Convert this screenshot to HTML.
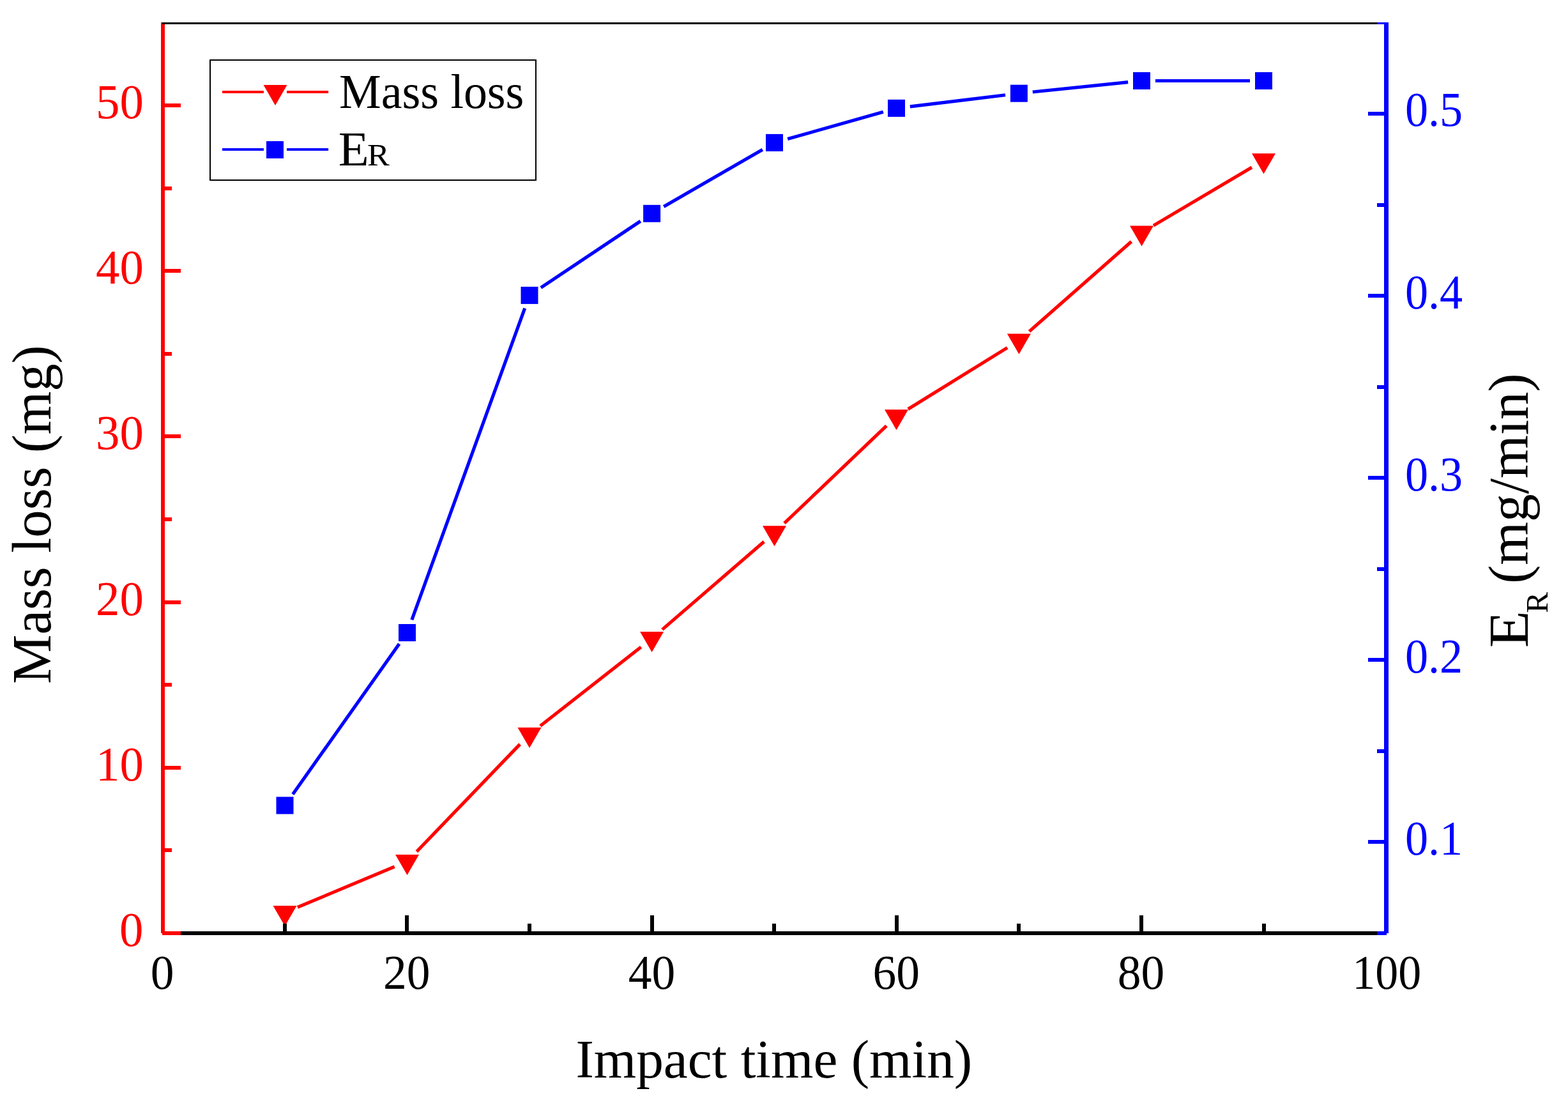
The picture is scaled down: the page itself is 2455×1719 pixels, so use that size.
<!DOCTYPE html>
<html><head><meta charset="utf-8"><title>Mass loss and E_R vs impact time</title>
<style>html,body{margin:0;padding:0;background:#fff;overflow:hidden;}svg{display:block;}</style></head>
<body>
<svg width="2455" height="1719" viewBox="0 0 2455 1719">
<path d="M465.84 1420.39L617.66 1356.97M652.41 1333.19L814.09 1165.17M845.93 1136.43L1003.67 1012.93M1036.87 985.63L1196.23 848.03M1228.06 819.15L1387.94 666.72M1421.78 640.56L1577.12 544.40M1611.54 518.88L1771.36 378.28M1806.00 353.13L1960.00 261.94" stroke="#ff0000" stroke-width="5.2" fill="none"/>
<path d="M458.42 1243.45L625.08 1008.05M644.83 970.29L821.67 482.61M846.87 450.45L1002.73 346.25M1039.22 323.54L1193.88 234.16M1233.19 217.55L1382.81 175.25M1424.84 166.82L1574.06 148.78M1616.79 144.01L1766.11 128.69M1809.00 126.50L1957.00 126.50" stroke="#0000ff" stroke-width="5.2" fill="none"/>
<path d="M427.50 1418.00L464.50 1418.00L446.00 1450.04Z" fill="#ff0000"/>
<path d="M619.00 1338.00L656.00 1338.00L637.50 1370.04Z" fill="#ff0000"/>
<path d="M810.50 1139.00L847.50 1139.00L829.00 1171.04Z" fill="#ff0000"/>
<path d="M1002.10 989.00L1039.10 989.00L1020.60 1021.04Z" fill="#ff0000"/>
<path d="M1194.00 823.30L1231.00 823.30L1212.50 855.34Z" fill="#ff0000"/>
<path d="M1385.00 641.20L1422.00 641.20L1403.50 673.24Z" fill="#ff0000"/>
<path d="M1576.90 522.40L1613.90 522.40L1595.40 554.44Z" fill="#ff0000"/>
<path d="M1769.00 353.40L1806.00 353.40L1787.50 385.44Z" fill="#ff0000"/>
<path d="M1960.00 240.30L1997.00 240.30L1978.50 272.34Z" fill="#ff0000"/>
<rect x="432.50" y="1247.50" width="27.0" height="27.0" fill="#0000ff"/>
<rect x="624.00" y="977.00" width="27.0" height="27.0" fill="#0000ff"/>
<rect x="815.50" y="448.90" width="27.0" height="27.0" fill="#0000ff"/>
<rect x="1007.10" y="320.80" width="27.0" height="27.0" fill="#0000ff"/>
<rect x="1199.00" y="209.90" width="27.0" height="27.0" fill="#0000ff"/>
<rect x="1390.00" y="155.90" width="27.0" height="27.0" fill="#0000ff"/>
<rect x="1581.90" y="132.70" width="27.0" height="27.0" fill="#0000ff"/>
<rect x="1774.00" y="113.00" width="27.0" height="27.0" fill="#0000ff"/>
<rect x="1965.00" y="113.00" width="27.0" height="27.0" fill="#0000ff"/>
<g shape-rendering="crispEdges"><rect x="252.00" y="35.00" width="6.00" height="1426.00" fill="#ff0000"/><rect x="258.00" y="1198.80" width="25.00" height="6.00" fill="#ff0000"/><rect x="258.00" y="939.60" width="25.00" height="6.00" fill="#ff0000"/><rect x="258.00" y="680.40" width="25.00" height="6.00" fill="#ff0000"/><rect x="258.00" y="421.20" width="25.00" height="6.00" fill="#ff0000"/><rect x="258.00" y="162.00" width="25.00" height="6.00" fill="#ff0000"/><rect x="258.00" y="1328.40" width="11.00" height="6.00" fill="#ff0000"/><rect x="258.00" y="1069.20" width="11.00" height="6.00" fill="#ff0000"/><rect x="258.00" y="810.00" width="11.00" height="6.00" fill="#ff0000"/><rect x="258.00" y="550.80" width="11.00" height="6.00" fill="#ff0000"/><rect x="258.00" y="291.60" width="11.00" height="6.00" fill="#ff0000"/><rect x="254.00" y="1458.00" width="1902.00" height="6.00" fill="#000000"/><rect x="254.00" y="35.00" width="1902.00" height="3.00" fill="#000000"/><rect x="634.46" y="1433.00" width="6.00" height="25.00" fill="#000000"/><rect x="1017.62" y="1433.00" width="6.00" height="25.00" fill="#000000"/><rect x="1400.78" y="1433.00" width="6.00" height="25.00" fill="#000000"/><rect x="1783.94" y="1433.00" width="6.00" height="25.00" fill="#000000"/><rect x="442.88" y="1446.00" width="6.00" height="12.00" fill="#000000"/><rect x="826.04" y="1446.00" width="6.00" height="12.00" fill="#000000"/><rect x="1209.20" y="1446.00" width="6.00" height="12.00" fill="#000000"/><rect x="1592.36" y="1446.00" width="6.00" height="12.00" fill="#000000"/><rect x="1975.52" y="1446.00" width="6.00" height="12.00" fill="#000000"/><rect x="254.00" y="1458.00" width="29.00" height="6.00" fill="#ff0000"/><rect x="2167.00" y="35.00" width="7.00" height="1426.00" fill="#0000ff"/><rect x="2142.00" y="1315.44" width="25.00" height="6.00" fill="#0000ff"/><rect x="2142.00" y="1030.32" width="25.00" height="6.00" fill="#0000ff"/><rect x="2142.00" y="745.20" width="25.00" height="6.00" fill="#0000ff"/><rect x="2142.00" y="460.08" width="25.00" height="6.00" fill="#0000ff"/><rect x="2142.00" y="174.96" width="25.00" height="6.00" fill="#0000ff"/><rect x="2156.00" y="1172.88" width="11.00" height="6.00" fill="#0000ff"/><rect x="2156.00" y="887.76" width="11.00" height="6.00" fill="#0000ff"/><rect x="2156.00" y="602.64" width="11.00" height="6.00" fill="#0000ff"/><rect x="2156.00" y="317.52" width="11.00" height="6.00" fill="#0000ff"/><rect x="2156.00" y="1458.00" width="15.00" height="6.00" fill="#0000ff"/><rect x="2156.00" y="35.00" width="18.00" height="3.00" fill="#0000ff"/></g>
<g font-family="'Liberation Serif','Times New Roman',serif"><text transform="translate(187.01 1480.90) scale(0.9720 1)" font-size="77" fill="#ff0000" xml:space="preserve">0</text><text transform="translate(150.07 1221.70) scale(0.9720 1)" font-size="77" fill="#ff0000" xml:space="preserve">10</text><text transform="translate(150.07 962.50) scale(0.9720 1)" font-size="77" fill="#ff0000" xml:space="preserve">20</text><text transform="translate(150.07 703.30) scale(0.9720 1)" font-size="77" fill="#ff0000" xml:space="preserve">30</text><text transform="translate(150.07 444.10) scale(0.9720 1)" font-size="77" fill="#ff0000" xml:space="preserve">40</text><text transform="translate(150.07 184.90) scale(0.9720 1)" font-size="77" fill="#ff0000" xml:space="preserve">50</text><text transform="translate(2199.89 1337.94) scale(0.9380 1)" font-size="77" fill="#0000ff" xml:space="preserve">0.1</text><text transform="translate(2199.89 1052.82) scale(0.9380 1)" font-size="77" fill="#0000ff" xml:space="preserve">0.2</text><text transform="translate(2199.89 767.70) scale(0.9380 1)" font-size="77" fill="#0000ff" xml:space="preserve">0.3</text><text transform="translate(2199.89 482.58) scale(0.9380 1)" font-size="77" fill="#0000ff" xml:space="preserve">0.4</text><text transform="translate(2199.89 197.46) scale(0.9380 1)" font-size="77" fill="#0000ff" xml:space="preserve">0.5</text><text transform="translate(235.73 1548.00) scale(0.9550 1)" font-size="77" fill="#000000" xml:space="preserve">0</text><text transform="translate(600.08 1548.00) scale(0.9550 1)" font-size="77" fill="#000000" xml:space="preserve">20</text><text transform="translate(983.83 1548.00) scale(0.9550 1)" font-size="77" fill="#000000" xml:space="preserve">40</text><text transform="translate(1366.51 1548.00) scale(0.9550 1)" font-size="77" fill="#000000" xml:space="preserve">60</text><text transform="translate(1749.67 1548.00) scale(0.9550 1)" font-size="77" fill="#000000" xml:space="preserve">80</text><text transform="translate(2117.25 1548.00) scale(0.9350 1)" font-size="77" fill="#000000" xml:space="preserve">100</text><text transform="translate(901.40 1686.90) scale(0.9995 1)" font-size="85.4" fill="#000000" xml:space="preserve">Impact time (min)</text><text transform="translate(78.50 1070.78) rotate(-90) scale(0.9922 1)" font-size="87.5" fill="#000000" xml:space="preserve">Mass loss (mg)</text><text transform="translate(2392.00 1014.15) rotate(-90) scale(1.0826 1)" font-size="88" fill="#000000" xml:space="preserve">E</text><text transform="translate(2423.10 959.81) rotate(-90) scale(1.0062 1)" font-size="49" fill="#000000" xml:space="preserve">R</text><text transform="translate(2392.00 935.68) rotate(-90) scale(0.9914 1)" font-size="88" fill="#000000" xml:space="preserve"> (mg/min)</text><text transform="translate(530.97 169.00) scale(0.9632 1)" font-size="76.7" fill="#000000" xml:space="preserve">Mass loss</text><text transform="translate(529.75 258.80) scale(1.0268 1)" font-size="76.5" fill="#000000" xml:space="preserve">E</text><text transform="translate(574.93 258.80) scale(1.0656 1)" font-size="49" fill="#000000" xml:space="preserve">R</text></g>
<rect x="329" y="94" width="510" height="188" fill="none" stroke="#000" stroke-width="2" shape-rendering="crispEdges"/><path d="M348 144H412.9M449 144H514.1" stroke="#ff0000" stroke-width="4.0"/><path d="M412.50 133.00L449.50 133.00L431.00 165.04Z" fill="#ff0000"/><path d="M348 234H412.9M449 234H514.1" stroke="#0000ff" stroke-width="4.0"/><rect x="417.00" y="221.00" width="27.0" height="27.0" fill="#0000ff"/>
</svg>
</body></html>
